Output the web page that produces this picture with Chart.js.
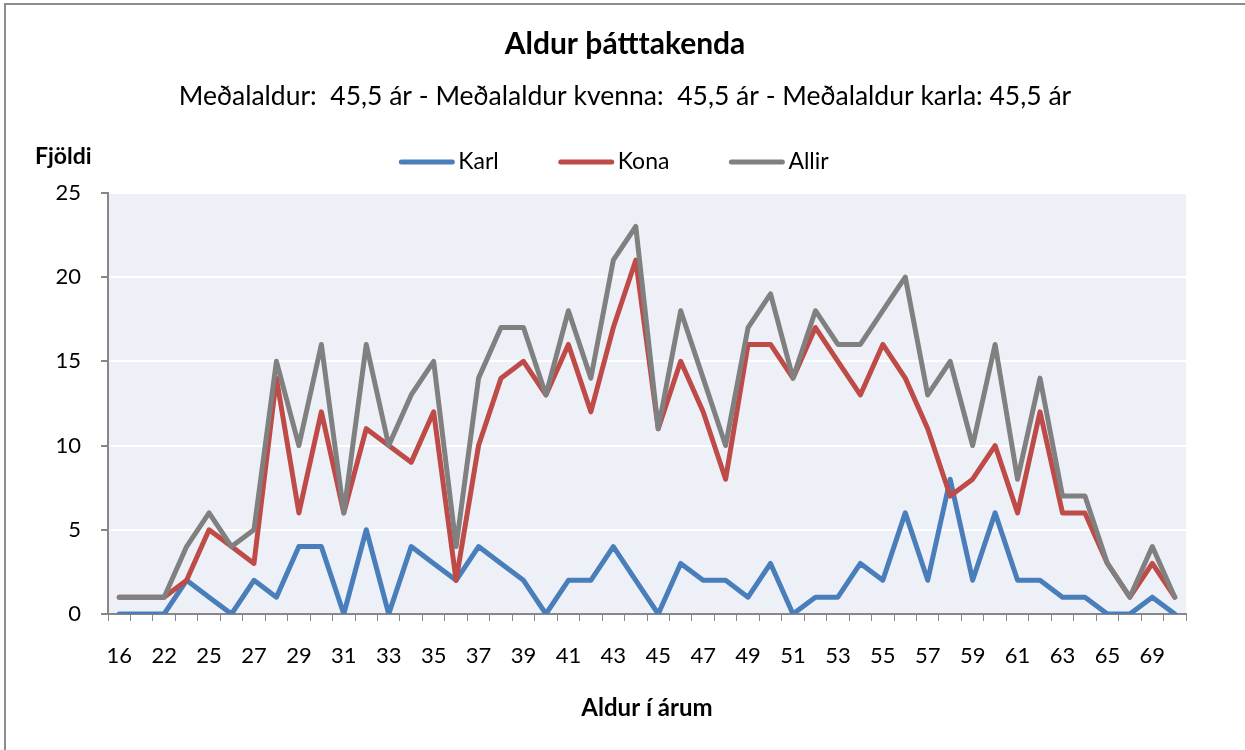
<!DOCTYPE html>
<html>
<head>
<meta charset="utf-8">
<script src="https://cdn.jsdelivr.net/npm/chart.js@4.4.0/dist/chart.umd.min.js"></script>
<style>
  html, body { margin: 0; padding: 0; background: #fff; }
  #wrap { width: 1245px; height: 750px; position: relative; }
</style>
</head>
<body>
<div id="wrap"><canvas id="chart" width="1245" height="750"></canvas></div>
<script>
// gögn lesin af myndinni
const ages = ['16', '20', '22', '24', '25', '26', '27', '28', '29', '30', '31', '32', '33', '34', '35', '36',
  '37', '38', '39', '40', '41', '42', '43', '44', '45', '46', '47', '48', '49', '50', '51', '52', '53', '54',
  '55', '56', '57', '58', '59', '60', '61', '62', '63', '64', '65', '67', '69', '70'];
const karl = [0, 0, 0, 2, 1, 0, 2, 1, 4, 4, 0, 5, 0, 4, 3, 2, 4, 3, 2, 0, 2, 2, 4, 2, 0, 3, 2, 2, 1, 3,
  0, 1, 1, 3, 2, 6, 2, 8, 2, 6, 2, 2, 1, 1, 0, 0, 1, 0];
const kona = [1, 1, 1, 2, 5, 4, 3, 14, 6, 12, 6, 11, 10, 9, 12, 2, 10, 14, 15, 13, 16, 12, 17, 21, 11, 15,
  12, 8, 16, 16, 14, 17, 15, 13, 16, 14, 11, 7, 8, 10, 6, 12, 6, 6, 3, 1, 3, 1];
const allir = [1, 1, 1, 4, 6, 4, 5, 15, 10, 16, 6, 16, 10, 13, 15, 4, 14, 17, 17, 13, 18, 14, 21, 23, 11,
  18, 14, 10, 17, 19, 14, 18, 16, 16, 18, 20, 13, 15, 10, 16, 8, 14, 7, 7, 3, 1, 4, 1];
const seriesNames = ['Karl', 'Kona', 'Allir'];
const yMax = 25;
const yStep = 5;

const FONT = 'Lato, "Open Sans", sans-serif';
const axisGray = '#878787';

// bakgrunnur teiknisvæðis
const plotBg = {
  id: 'plotBg',
  afterLayout(chart) {
    // titill miðjaður á allan flötinn en y-ás fær pláss alveg út að vinstri brún
    const y = chart.scales.y;
    y.width = y.right;
    y.left = 0;
  },
  beforeDraw(chart) {
    const { ctx, chartArea: a } = chart;
    ctx.save();
    ctx.fillStyle = '#EDF1F7';
    ctx.fillRect(a.left, a.top, a.right - a.left, a.bottom - a.top);
    ctx.restore();
  }
};

// rammi, "Fjöldi" og skýringar
const extras = {
  id: 'extras',
  afterDraw(chart) {
    const { ctx } = chart;
    ctx.save();
    ctx.strokeStyle = '#8C8C8C';
    ctx.lineWidth = 2;
    ctx.beginPath();
    ctx.moveTo(5, 760);
    ctx.lineTo(5, 4);
    ctx.lineTo(1260, 4);
    ctx.stroke();

    ctx.fillStyle = '#000';
    ctx.font = 'bold 23px ' + FONT;
    ctx.textBaseline = 'middle';
    ctx.textAlign = 'left';
    ctx.fillText('Fjöldi', 35, 157);

    // skýringar
    ctx.font = '23px ' + FONT;
    const lineLen = 55, gap = 4, itemGap = 60, y = 162;
    const ds = chart.data.datasets;
    let total = 0;
    ds.forEach((d, i) => {
      total += lineLen + gap + ctx.measureText(d.label).width + (i < ds.length - 1 ? itemGap : 0);
    });
    let x = 614 - total / 2;
    ds.forEach(d => {
      ctx.strokeStyle = d.borderColor;
      ctx.lineWidth = 5;
      ctx.lineCap = 'round';
      ctx.beginPath();
      ctx.moveTo(x + 2, y);
      ctx.lineTo(x + lineLen - 2, y);
      ctx.stroke();
      x += lineLen + gap;
      ctx.fillStyle = '#000';
      ctx.fillText(d.label, x, y);
      x += ctx.measureText(d.label).width + itemGap;
    });
    ctx.restore();
  }
};

const lineDefaults = {
  borderWidth: 5,
  pointRadius: 0,
  pointHoverRadius: 0,
  tension: 0,
  fill: false,
  borderJoinStyle: 'round',
  borderCapStyle: 'round'
};

new Chart(document.getElementById('chart'), {
  type: 'line',
  data: {
    labels: ages,
    datasets: [
      { ...lineDefaults, label: seriesNames[0], data: karl, borderColor: '#4A7EBB', backgroundColor: '#4A7EBB', order: 2 },
      { ...lineDefaults, label: seriesNames[1], data: kona, borderColor: '#BE4B48', backgroundColor: '#BE4B48', order: 1 },
      { ...lineDefaults, label: seriesNames[2], data: allir, borderColor: '#808080', backgroundColor: '#808080', order: 0 }
    ]
  },
  options: {
    responsive: false,
    animation: false,
    layout: { padding: { left: 64, right: 59, top: 0, bottom: 0 } },
    plugins: {
      legend: { display: false },
      tooltip: { enabled: false },
      title: {
        display: true,
        text: 'Aldur þátttakenda',
        color: '#000',
        font: { family: FONT, size: 30, weight: 'bold' },
        padding: { top: 26, bottom: 19 }
      },
      subtitle: {
        display: true,
        text: 'Meðalaldur:  45,5 ár - Meðalaldur kvenna:  45,5 ár - Meðalaldur karla: 45,5 ár',
        color: '#000',
        font: { family: FONT, size: 26.5 },
        padding: { top: 0, bottom: 80 }
      }
    },
    scales: {
      x: {
        offset: true,
        grid: { display: true, drawOnChartArea: false, drawTicks: true, tickLength: 7, offset: true, color: axisGray, tickColor: axisGray },
        border: { display: true, color: axisGray, width: 2 },
        ticks: {
          autoSkip: false,
          maxRotation: 0,
          padding: 22,
          color: '#000',
          font: { family: FONT, size: 22 },
          callback: (v, i) => (i % 2 === 0 ? ages[i] : '')
        },
        title: {
          display: true,
          text: 'Aldur í árum',
          color: '#000',
          font: { family: FONT, size: 24, weight: 'bold' },
          padding: { top: 0, bottom: 27 }
        },
        afterFit(scale) { scale.height = 136; }
      },
      y: {
        min: 0,
        max: yMax,
        grid: { color: '#FFFFFF', lineWidth: 2, tickColor: axisGray, tickLength: 7, drawTicks: true },
        border: { display: true, color: axisGray, width: 2 },
        ticks: {
          stepSize: yStep,
          padding: 20,
          color: '#000',
          font: { family: FONT, size: 22 }
        },
        afterFit(scale) { scale.width = 44; }
      }
    }
  },
  plugins: [plotBg, extras]
});
</script>
</body>
</html>
